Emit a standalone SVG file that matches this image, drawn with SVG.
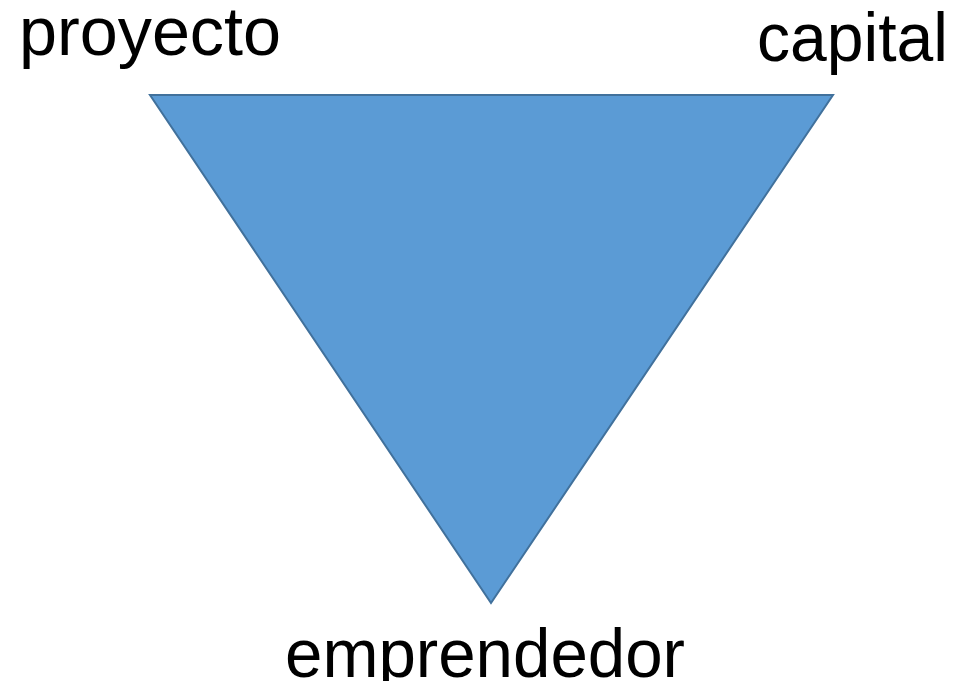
<svg xmlns="http://www.w3.org/2000/svg" width="959" height="681" viewBox="0 0 959 681">
<style>
.lbl{font-family:"Liberation Sans","Open Sans",sans-serif;font-size:68px;fill:#000}
</style>
<rect width="959" height="681" fill="#fff"/>
<g id="triangle">
<polygon points="150,95 833,95 491,603" fill="#5B9BD5" stroke="#41719C" stroke-width="2" stroke-linejoin="miter"/>
</g>
<g id="proyecto"><text class="lbl" x="19" y="55" textLength="262" lengthAdjust="spacingAndGlyphs">proyecto</text></g>
<g id="capital"><text class="lbl" x="757" y="61" textLength="191" lengthAdjust="spacingAndGlyphs">capital</text></g>
<g id="emprendedor"><text class="lbl" x="285" y="677" textLength="400" lengthAdjust="spacingAndGlyphs">emprendedor</text></g>
<g id="connectors"></g>
</svg>
